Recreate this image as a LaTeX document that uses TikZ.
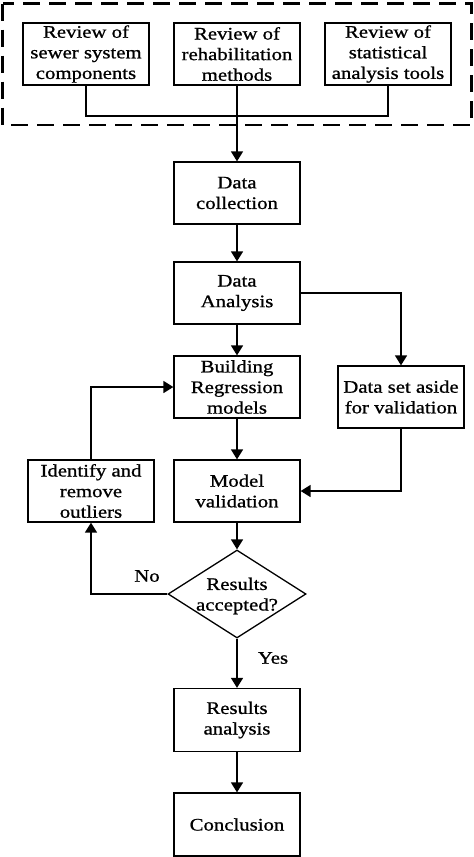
\documentclass[tikz,border=0pt]{standalone}
\usepackage{fontspec}
\setmainfont{Liberation Serif}[FakeStretch=1.18,FakeBold=0.9]
\usetikzlibrary{shapes.geometric,arrows.meta}
\begin{document}
\begin{tikzpicture}[x=1pt,y=-1pt,
  box/.style={draw,line width=1.3pt,minimum width=126pt,minimum height=62pt,inner sep=0pt,align=center,
    font=\fontsize{17.6}{20.6}\selectfont},
  txt/.style={inner sep=0pt,align=center,font=\fontsize{17.6}{20.6}\selectfont},
  dec/.style={draw,line width=1.3pt,shape=diamond,minimum width=138pt,minimum height=88pt,inner sep=0pt},
  conn/.style={line width=1.6pt},
  arr/.style={line width=1.6pt,-{Triangle[length=10pt,width=12pt]}},
  dashbox/.style={draw,line width=2.6pt,dash pattern=on 17pt off 9pt}]
\useasboundingbox (0,0) rectangle (474,857);
\fill[white] (0,0) rectangle (474,857);
\draw[dashbox] (2.5,3.5) rectangle (471.5,125);
\node[box] (r1) at (86,54) {Review of\\sewer system\\components};
\node[box] (r2) at (237,54) {Review of\\rehabilitation\\methods};
\node[box] (r3) at (388,54) {Review of\\statistical\\analysis tools};
\node[box] (dc) at (237,193) {Data\\collection};
\node[box] (da) at (237,293) {Data\\Analysis};
\node[box] (br) at (237,387) {Building\\Regression\\models};
\node[box] (ds) at (401,397) {Data set aside\\for validation};
\node[box] (id) at (91,491) {Identify and\\remove\\outliers};
\node[box] (mv) at (237,491) {Model\\validation};
\node[dec] (dia) at (237,594) {};
\node[txt] (diat) at (237,596) {Results\\accepted?};
\node[box,minimum height=63pt] (ra) at (237,720) {Results\\analysis};
\node[box,minimum height=63pt] (cc) at (237,824.5) {Conclusion};
\coordinate (j) at (237,116);
\node[txt] (no) at (147,576) {No};
\node[txt] (yes) at (273,658) {Yes};
\draw[conn] (r1.south) |- (j) -| (r3.south);
\draw[arr] (r2.south) -- (dc.north);
\draw[arr] (dc.south) -- (da.north);
\draw[arr] (da.south) -- (br.north);
\draw[arr] (da.east) -| (ds.north);
\draw[arr] (br.south) -- (mv.north);
\draw[arr] (ds.south) |- (mv.east);
\draw[arr] (mv.south) -- (dia.north);
\draw[arr] (dia.west) -| (id.south);
\draw[arr] (id.north) |- (br.west);
\draw[arr] (dia.south) -- (ra.north);
\draw[arr] (ra.south) -- (cc.north);
\end{tikzpicture}
\end{document}
